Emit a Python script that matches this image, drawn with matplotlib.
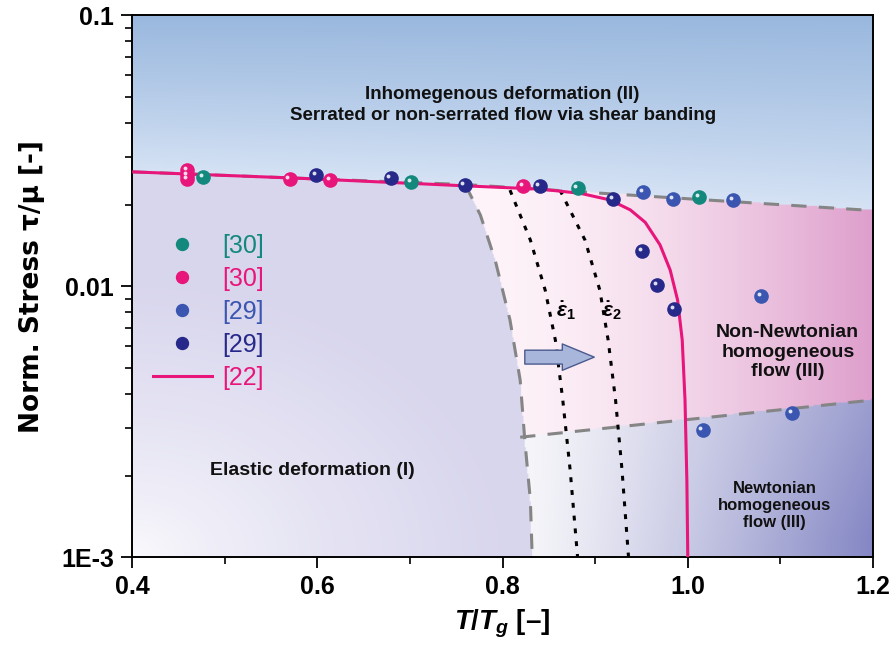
import numpy as np
import matplotlib
matplotlib.use('Agg')
import matplotlib.pyplot as plt
from matplotlib.transforms import offset_copy
from matplotlib.lines import Line2D

plt.rcParams['font.family'] = ['Liberation Sans', 'DejaVu Sans']
plt.rcParams['mathtext.fontset'] = 'custom'
plt.rcParams['mathtext.rm'] = 'Liberation Sans:bold'
plt.rcParams['mathtext.it'] = 'Liberation Sans:italic:bold'
plt.rcParams['mathtext.bf'] = 'Liberation Sans:bold'

# ---------------- data ----------------
teal_x = [0.477, 0.701, 0.881, 1.012]
teal_y = [0.0252, 0.0242, 0.0230, 0.0213]
pink_x = [0.459, 0.459, 0.459, 0.570, 0.614, 0.822]
pink_y = [0.0268, 0.0257, 0.0249, 0.0249, 0.0246, 0.0234]
blue_x = [0.952, 0.984, 1.049, 1.079, 1.113, 1.016]
blue_y = [0.0222, 0.0209, 0.0208, 0.00919, 0.00340, 0.00294]
navy_x = [0.599, 0.679, 0.759, 0.840, 0.919, 0.951, 0.967, 0.985]
navy_y = [0.0257, 0.0250, 0.0236, 0.0234, 0.0209, 0.01346, 0.0101, 0.00822]
ref22_x = [0.4, 0.581, 0.765, 0.841, 0.884, 0.916, 0.938, 0.954, 0.970,
           0.981, 0.989, 0.994, 0.997, 0.999, 1.0]
ref22_y = [0.0264, 0.0250, 0.0234, 0.0228, 0.0220, 0.0208, 0.0191, 0.0172,
           0.0142, 0.01146, 0.00888, 0.00632, 0.00380, 0.00192, 0.001]

# region boundaries
top_x = [0.4, 0.76, 1.2]
top_y = [0.0264, 0.0237, 0.0190]
left_x = [0.760, 0.776, 0.792, 0.808, 0.819, 0.824, 0.830, 0.832]
left_y = [0.0236, 0.0183, 0.01247, 0.0075, 0.0045, 0.0027, 0.00162, 0.001]
low_x = [0.819, 1.2]
low_y = [0.00277, 0.0038]

# strain-rate curves
eps_y = [0.0226, 0.01479, 0.00967, 0.00632, 0.00380, 0.00209, 0.001]
eps1_x = [0.808, 0.830, 0.846, 0.857, 0.865, 0.873, 0.881]
eps2_x = [0.862, 0.889, 0.905, 0.914, 0.922, 0.929, 0.936]

legend_labels = ['[30]', '[30]', '[29]', '[29]', '[22]']
c_teal = '#13897e'
c_pink = '#e8157a'
c_blue = '#3a56b0'
c_navy = '#27298a'

# ---------------- figure ----------------
fig = plt.figure(figsize=(8.93, 6.57), dpi=100)
pos = [0.148, 0.152, 0.8296, 0.825]
bg = fig.add_axes(pos, zorder=0)
ax = fig.add_axes(pos, zorder=1)
ax.patch.set_alpha(0)

# background shading
nx, ny = 600, 450
xs = np.linspace(0.4, 1.2, nx)
ls = np.linspace(-3, -1, ny)
X, L = np.meshgrid(xs, ls)
top_l = np.interp(X, top_x, np.log10(top_y))
left_xb = np.interp(L, np.log10(left_y)[::-1], np.array(left_x)[::-1])
low_l = np.interp(X, low_x, np.log10(low_y))

def mix(a, b, t):
    a = np.array(a); b = np.array(b)
    return a + (b - a) * t[..., None]

img = np.zeros((ny, nx, 3))
t = np.clip((L - top_l) / (-1 - top_l), 0, 1)
col_top = mix((0.84, 0.89, 0.96), (0.60, 0.72, 0.87), t ** 0.9)
u = (X - 0.4) / 0.4
v = (L + 3) / 1.0
r = np.clip(np.sqrt(u ** 2 + v ** 2), 0, 1)
col_el = mix((0.985, 0.985, 0.995), (0.85, 0.84, 0.93), r ** 0.7)
s = np.clip((X - 0.78) / 0.42, 0, 1)
col_nn = mix((0.995, 0.955, 0.975), (0.87, 0.62, 0.80), s ** 1.6)
s2 = np.clip((X - 0.82) / 0.38, 0, 1)
vv = np.clip((low_l - L) / 0.5, 0, 1)
col_nw = mix((0.965, 0.965, 0.98), (0.52, 0.53, 0.77), (s2 ** 1.2) * (0.8 + 0.2 * vv))

m_top = L > top_l
m_el = (~m_top) & (X < left_xb)
m_nw = (~m_top) & (~m_el) & (L < low_l)
m_nn = (~m_top) & (~m_el) & (~m_nw)
img[m_top] = col_top[m_top]
img[m_el] = col_el[m_el]
img[m_nw] = col_nw[m_nw]
img[m_nn] = col_nn[m_nn]
bg.imshow(img, extent=[0.4, 1.2, -3, -1], origin='lower', aspect='auto',
          interpolation='bilinear')
bg.set_xlim(0.4, 1.2)
bg.set_ylim(-3, -1)
bg.axis('off')

ax.set_xlim(0.4, 1.2)
ax.set_yscale('log')
ax.set_ylim(1e-3, 0.1)

# boundaries
dash_kw = dict(color='#858585', lw=2.2, dashes=(5, 4), zorder=2)
ax.plot(top_x, top_y, **dash_kw)
ax.plot(left_x, left_y, **dash_kw)
ax.plot(low_x, low_y, **dash_kw)
dot_kw = dict(color='black', lw=2.2, dashes=(1.6, 2.6), zorder=2)
ax.plot(eps1_x, eps_y, **dot_kw)
ax.plot(eps2_x, eps_y, **dot_kw)

# reference curve
ax.plot(ref22_x, ref22_y, color=c_pink, lw=2.2, zorder=3, solid_capstyle='butt')

# markers with highlight
hl = offset_copy(ax.transData, fig=fig, x=-1.6, y=1.6, units='points')
for xx, yy, c in [(teal_x, teal_y, c_teal), (pink_x, pink_y, c_pink),
                  (blue_x, blue_y, c_blue), (navy_x, navy_y, c_navy)]:
    ax.plot(xx, yy, 'o', ms=9.5, color=c, mec=c, zorder=4)
    ax.plot(xx, yy, 'o', ms=2.8, color='white', mec='none', alpha=0.85,
            transform=hl, zorder=5)

# arrow
ax.annotate('', xy=(0.902, 0.00547), xytext=(0.821, 0.00547),
            arrowprops=dict(arrowstyle='simple,head_width=1.9,head_length=2.3,tail_width=1.0',
                            fc='#a9b6dc', ec='#4a5a8e', lw=1.0), zorder=4)

# annotations
tk = dict(fontweight='bold', ha='center', va='center', color='#111111')
ax.text(0.80, 0.0466, 'Inhomegenous deformation (II)\nSerrated or non-serrated flow via shear banding',
        linespacing=1.3, fontsize=13.5, **tk)
ax.text(0.595, 0.00209, 'Elastic deformation (I)', fontsize=14, **tk)
ax.text(1.108, 0.0057, 'Non-Newtonian\nhomogeneous\nflow (III)', linespacing=1.2, fontsize=14, **tk)
ax.text(1.094, 0.00155, 'Newtonian\nhomogeneous\nflow (III)', linespacing=1.15, fontsize=12, **tk)
ax.text(0.868, 0.00815, r'$\dot{\varepsilon}_1$', fontsize=15, ha='center', va='center')
ax.text(0.918, 0.00815, r'$\dot{\varepsilon}_2$', fontsize=15, ha='center', va='center')

# legend
handles = [Line2D([], [], marker='o', ls='none', color=c_teal, ms=8.6),
           Line2D([], [], marker='o', ls='none', color=c_pink, ms=8.6),
           Line2D([], [], marker='o', ls='none', color=c_blue, ms=8.6),
           Line2D([], [], marker='o', ls='none', color=c_navy, ms=8.6),
           Line2D([], [], color=c_pink, lw=2.2)]
leg = ax.legend(handles, legend_labels, loc='upper left', bbox_to_anchor=(0.028, 0.596),
                frameon=False, fontsize=18, handlelength=2.36, handletextpad=0.4,
                labelspacing=0.36, borderpad=0, borderaxespad=0,
                labelcolor=[c_teal, c_pink, c_blue, c_navy, c_pink])

# ticks
ax.set_xticks([0.4, 0.6, 0.8, 1.0, 1.2])
ax.set_xticklabels(['0.4', '0.6', '0.8', '1.0', '1.2'])
ax.set_xticks([0.5, 0.7, 0.9, 1.1], minor=True)
ax.set_yticks([1e-3, 1e-2, 1e-1])
ax.set_yticklabels(['1E-3', '0.01', '0.1'])
ax.yaxis.set_minor_locator(matplotlib.ticker.LogLocator(base=10, subs=np.arange(2, 10)))
ax.yaxis.set_minor_formatter(matplotlib.ticker.NullFormatter())
ax.tick_params(which='major', direction='out', length=8, width=1.3, labelsize=18, pad=5)
ax.tick_params(which='minor', direction='out', length=5, width=1.2)
for lab in ax.get_xticklabels() + ax.get_yticklabels():
    lab.set_fontweight('bold')
for sp in ax.spines.values():
    sp.set_linewidth(1.4)

ax.set_ylabel('Norm. Stress τ/μ [-]', fontsize=19, fontweight='bold', labelpad=12,
              family=['DejaVu Sans'])
ax.set_xlabel(r'$T/T_g$ [–]', fontsize=20, fontweight='bold', labelpad=6)

fig.savefig('out.png', dpi=100)
